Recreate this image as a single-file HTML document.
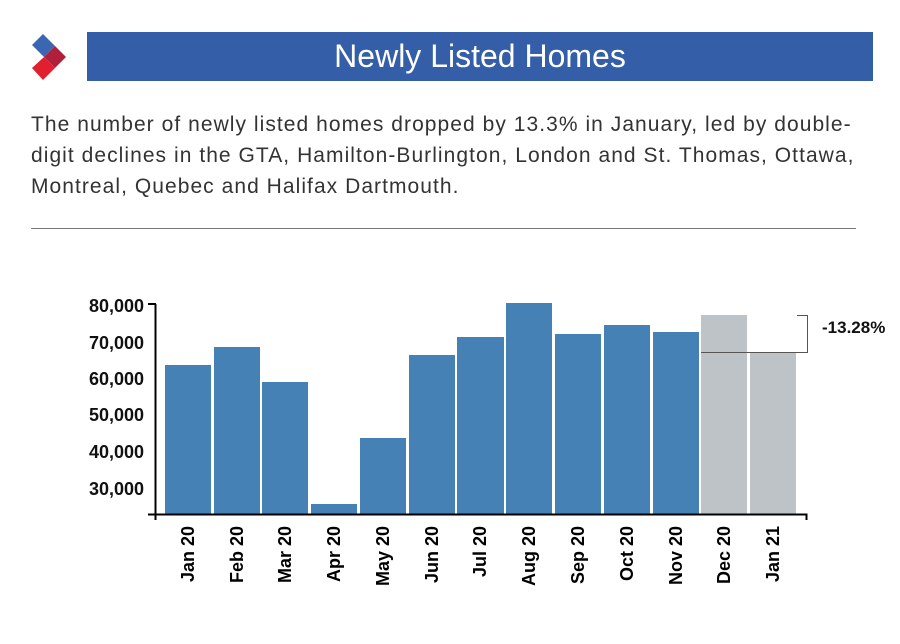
<!DOCTYPE html>
<html><head><style>
body{margin:0;width:900px;height:644px;background:#fff;position:relative;font-family:"Liberation Sans",sans-serif;overflow:hidden}
.bar{position:absolute;background:#4581b5}
.g{background:#bec3c8}
.xl{position:absolute;top:526px;width:20px;height:72px;font:bold 18px/20px "Liberation Sans",sans-serif;color:#000;writing-mode:vertical-rl;transform:rotate(180deg);text-align:right;white-space:nowrap}
.yl{position:absolute;left:66px;width:78px;text-align:right;font:bold 18px "Liberation Sans",sans-serif;color:#111}
</style></head><body>
<svg style="position:absolute;left:0;top:0" width="90" height="90">
<polygon points="43,34 55,46 44,57 32,45" fill="#3a67b1"/>
<polygon points="55,46 66,57 55,68 44,57" fill="#b0203a"/>
<polygon points="44,57 55,68 43,80 32,68" fill="#e0202e"/>
</svg>
<div style="position:absolute;left:87px;top:32px;width:786px;height:49px;background:#345ea8;color:#fff;font-size:32px;text-align:center;line-height:49px">Newly Listed Homes</div>
<div style="position:absolute;left:31px;top:109px;width:860px;font-size:21px;letter-spacing:1.05px;line-height:31px;color:#333;white-space:nowrap">The number of newly listed homes dropped by 13.3% in January, led by double-<br>digit declines in the GTA, Hamilton-Burlington, London and St. Thomas, Ottawa,<br>Montreal, Quebec and Halifax Dartmouth.</div>
<div style="position:absolute;left:31px;top:228px;width:825px;height:1px;background:#777"></div>

<div class="yl" style="top:296px">80,000</div>
<div class="yl" style="top:333px">70,000</div>
<div class="yl" style="top:369px">60,000</div>
<div class="yl" style="top:405px">50,000</div>
<div class="yl" style="top:442px">40,000</div>
<div class="yl" style="top:479px">30,000</div>

<div class="bar" style="left:165px;top:365px;width:46px;height:149px"></div>
<div class="bar" style="left:214px;top:347px;width:46px;height:167px"></div>
<div class="bar" style="left:262px;top:382px;width:46px;height:132px"></div>
<div class="bar" style="left:311px;top:504px;width:46px;height:10px"></div>
<div class="bar" style="left:360px;top:438px;width:46px;height:76px"></div>
<div class="bar" style="left:409px;top:355px;width:46px;height:159px"></div>
<div class="bar" style="left:457px;top:337px;width:47px;height:177px"></div>
<div class="bar" style="left:506px;top:303px;width:46px;height:211px"></div>
<div class="bar" style="left:555px;top:334px;width:46px;height:180px"></div>
<div class="bar" style="left:604px;top:325px;width:46px;height:189px"></div>
<div class="bar" style="left:653px;top:332px;width:46px;height:182px"></div>
<div class="bar g" style="left:701px;top:315px;width:46px;height:199px"></div>
<div class="bar g" style="left:750px;top:352px;width:46px;height:162px"></div>

<svg style="position:absolute;left:0;top:0" width="900" height="644">
<path d="M155.5 304 V520 M148 304 H156 M148 514.5 H806.5 V520" stroke="#000" stroke-width="2" fill="none"/>
<path d="M701 352.5 H807.5 V315.5 H797" stroke="#555" stroke-width="1" fill="none"/>
<text x="822" y="333" font-family="Liberation Sans" font-weight="bold" font-size="17" fill="#111">-13.28%</text>
</svg>

<div class="xl" style="left:178px">Jan 20</div>
<div class="xl" style="left:227px">Feb 20</div>
<div class="xl" style="left:275px">Mar 20</div>
<div class="xl" style="left:324px">Apr 20</div>
<div class="xl" style="left:373px">May 20</div>
<div class="xl" style="left:422px">Jun 20</div>
<div class="xl" style="left:470px">Jul 20</div>
<div class="xl" style="left:519px">Aug 20</div>
<div class="xl" style="left:568px">Sep 20</div>
<div class="xl" style="left:617px">Oct 20</div>
<div class="xl" style="left:666px">Nov 20</div>
<div class="xl" style="left:714px">Dec 20</div>
<div class="xl" style="left:763px">Jan 21</div>
</body></html>
